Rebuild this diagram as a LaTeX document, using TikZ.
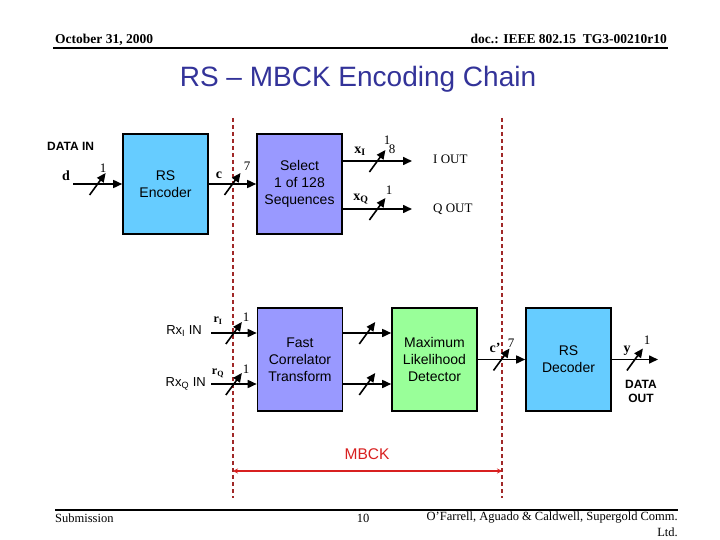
\documentclass[tikz,border=0pt]{standalone}
\usepackage{fontspec}
\setmainfont{Liberation Serif}
\setsansfont{Liberation Sans}
\usetikzlibrary{arrows.meta,calc}
\definecolor{titleblue}{HTML}{333399}
\definecolor{encblue}{HTML}{66CCFF}
\definecolor{lav}{HTML}{9999FF}
\definecolor{lgreen}{HTML}{99FF99}
\definecolor{dred}{HTML}{A02828}
\definecolor{bred}{HTML}{D82020}
\tikzset{
  blockbox/.style={draw=black,line width=1.6pt,minimum width=85pt,align=center,
    font=\sffamily\fontsize{14}{17}\selectfont,inner sep=0pt},
  arr/.style={line width=1.6pt,-{Triangle[length=9pt,width=8pt]}},
  busslash/.pic={\draw[line width=1.6pt] (-8,11) -- (8,-11);},
  sig/.style={font=\bfseries\fontsize{14}{16}\selectfont,inner sep=0pt},
  num/.style={font=\fontsize{13}{15}\selectfont,inner sep=0pt},
  outl/.style={font=\fontsize{13}{15}\selectfont,inner sep=0pt},
  sfl/.style={font=\sffamily\fontsize{13}{15}\selectfont,inner sep=0pt},
  reddash/.style={draw=dred,line width=1.5pt,dash pattern=on 4pt off 3pt},
  rulel/.style={draw=black,line width=2pt},
}
\begin{document}
\begin{tikzpicture}[x=1pt,y=-1pt]
\useasboundingbox (0,0) rectangle (720,540);
% header
\node[anchor=base west,font=\bfseries\fontsize{13.5}{15}\selectfont,inner sep=0pt] (date) at (55,44) {October 31, 2000};
\node[anchor=base east,font=\bfseries\fontsize{13.5}{15}\selectfont,inner sep=0pt] (doc) at (667,44) {doc.: IEEE 802.15\ \ TG3-00210r10};
\coordinate (hleft) at (53,48); \coordinate (hright) at (668,48);
\draw[rulel,line width=2.5pt] (hleft) -- (hright);
\node[font=\sffamily\fontsize{28}{31}\selectfont,text=titleblue,inner sep=0pt] (title) at (358,79) {RS -- MBCK Encoding Chain};
% footer
\coordinate (footleft) at (55,509.5); \coordinate (footright) at (678,509.5);
\draw[rulel] (footleft) -- (footright);
\node[anchor=west,font=\fontsize{12.5}{14}\selectfont,inner sep=0pt] (sub) at (55,518) {Submission};
\node[font=\fontsize{12.5}{14}\selectfont,inner sep=0pt] (pg) at (363,518) {10};
\node[anchor=east,font=\fontsize{12.5}{14}\selectfont,inner sep=0pt] (auth) at (678,518) {O'Farrell, Aguado \& Caldwell, Supergold Comm.};
\node[anchor=east,font=\fontsize{12.5}{14}\selectfont,inner sep=0pt] (ltd) at (678,532) {Ltd.};
% MBCK dashed lines
\coordinate (dlt) at (233,118); \coordinate (dlb) at (233,498);
\coordinate (drt) at (502,118); \coordinate (drb) at (502,498);
\draw[reddash] (dlt) -- (dlb);
\draw[reddash] (drt) -- (drb);
\coordinate (mbl) at (233,471); \coordinate (mbr) at (502,471);
\draw[draw=bred,line width=1.8pt,{Stealth[length=5pt,width=5pt]}-{Stealth[length=5pt,width=5pt]}] (mbl) -- (mbr);
\node[font=\sffamily\fontsize{15.5}{17}\selectfont,text=bred,inner sep=0pt] (mbck) at (367,454) {MBCK};
% blocks
\node[blockbox,fill=encblue,minimum height=100pt] (enc) at (165.5,184) {RS\\Encoder};
\node[blockbox,fill=lav,minimum height=100pt] (sel) at (299.5,184) {Select\\1 of 128\\Sequences};
\node[blockbox,fill=lav,minimum height=103pt] (fct) at (300,359.5) {Fast\\Correlator\\Transform};
\node[blockbox,fill=lgreen,minimum height=103pt] (mld) at (434.5,359.5) {Maximum\\Likelihood\\Detector};
\node[blockbox,fill=encblue,minimum height=103pt] (dec) at (568.5,359.5) {RS\\Decoder};
% encoder side
\node[anchor=west,font=\sffamily\bfseries\fontsize{12}{14}\selectfont,inner sep=0pt] (datain) at (47,146) {DATA IN};
\coordinate (din) at (73,184);
\draw[arr] (din) -- (enc.west) pic[pos=0.5]{busslash};
\node[sig] (dl) at (66,176) {d};
\node[num] (d1) at (103,168) {1};
\draw[arr] (enc.east) -- (sel.west) pic[pos=0.5]{busslash};
\node[sig] (cl) at (219,175) {c};
\node[num] (c7) at (247,166) {7};
\coordinate (xie) at (412,161); \coordinate (xqe) at (412,209);
\draw[arr] (sel.east |- xie) -- (xie) pic[pos=0.5]{busslash};
\draw[arr] (sel.east |- xqe) -- (xqe) pic[pos=0.5]{busslash};
\node[sig] (xil) at (360,151) {x\textsubscript{I}};
\node[num] (xi1) at (387,140) {1};
\node[num] (xi8) at (392,149) {8};
\node[sig] (xql) at (361,199) {x\textsubscript{Q}};
\node[num] (xq1) at (389,190) {1};
\node[outl,anchor=west] (iout) at (433,159) {I OUT};
\node[outl,anchor=west] (qout) at (433,209) {Q OUT};
% decoder side
\coordinate (ris) at (211,333); \coordinate (rqs) at (211,384);
\draw[arr] (ris) -- (fct.west |- ris) pic[pos=0.5]{busslash};
\draw[arr] (rqs) -- (fct.west |- rqs) pic[pos=0.5]{busslash};
\node[sfl,anchor=east] (rxi) at (202,331) {Rx\textsubscript{I} IN};
\node[sfl,anchor=east] (rxq) at (206,384) {Rx\textsubscript{Q} IN};
\node[sig,font=\bfseries\fontsize{12}{14}\selectfont] (ril) at (218,321) {r\textsubscript{I}};
\node[sig,font=\bfseries\fontsize{12}{14}\selectfont] (rql) at (218,373) {r\textsubscript{Q}};
\node[num] (ri1) at (246,317) {1};
\node[num] (rq1) at (246,369) {1};
\draw[arr] (fct.east |- ris) -- (mld.west |- ris) pic[pos=0.5]{busslash};
\draw[arr] (fct.east |- rqs) -- (mld.west |- rqs) pic[pos=0.5]{busslash};
\draw[arr] (mld.east) -- (dec.west) pic[pos=0.5]{busslash};
\node[sig] (cpl) at (495,348) {c'};
\node[num] (cp7) at (511,343) {7};
\coordinate (ye) at (658,359.5);
\draw[arr] (dec.east) -- (ye) pic[pos=0.5]{busslash};
\node[sig] (yl) at (627,351) {y};
\node[num] (y1) at (647,340) {1};
\node[font=\sffamily\bfseries\fontsize{12}{14}\selectfont,align=center,inner sep=0pt] (dout) at (641,391) {DATA\\OUT};
\end{tikzpicture}
\end{document}
